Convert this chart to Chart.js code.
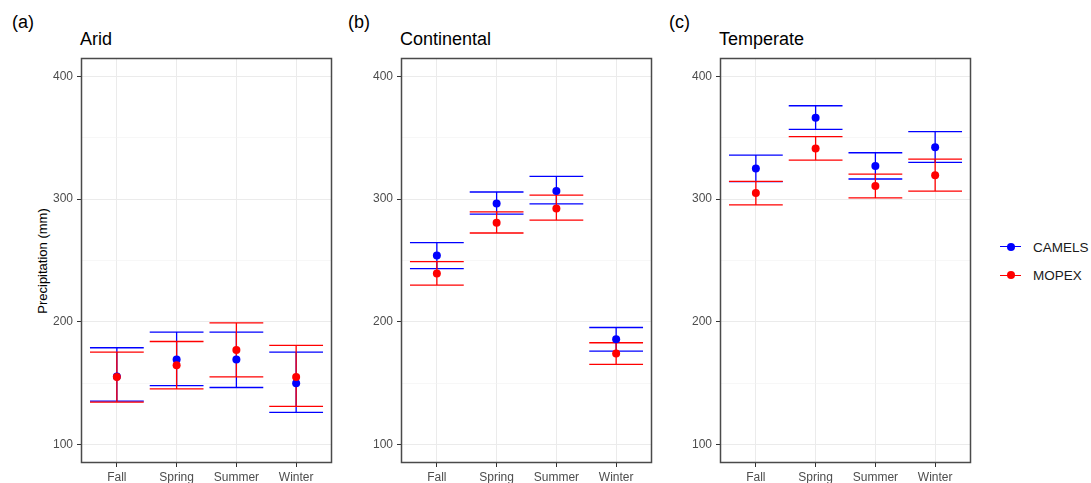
<!DOCTYPE html>
<html>
<head>
<meta charset="utf-8">
<script src="https://cdn.jsdelivr.net/npm/chart.js@4.4.0/dist/chart.umd.min.js"></script>
<style>
  body { margin: 0; width: 1091px; height: 483px; overflow: hidden; background: #fff; position: relative;
         font-family: "Liberation Sans", Arial, sans-serif; }
  canvas { position: absolute; top: 0; }
  .lab { position: absolute; font-size: 18px; line-height: 18px; color: #000; white-space: nowrap; }
  .ytitle { position: absolute; left: 42px; top: 260.5px; font-size: 13px; line-height: 13px; color: #000;
            white-space: nowrap; transform: translate(-50%, -50%) rotate(-90deg); }
  .leg { position: absolute; font-size: 13.5px; line-height: 14px; color: #1a1a1a; left: 1033px; }
  .legline { position: absolute; left: 1000px; width: 21px; height: 1.3px; }
  .legdot { position: absolute; left: 1006.7px; width: 8px; height: 8px; border-radius: 50%; }
</style>
</head>
<body>
<div class="lab" style="left:12px;top:13px">(a)</div>
<div class="lab" style="left:348px;top:13px">(b)</div>
<div class="lab" style="left:669px;top:13px">(c)</div>
<div class="lab" style="left:80px;top:30px">Arid</div>
<div class="lab" style="left:400px;top:30px">Continental</div>
<div class="lab" style="left:719px;top:30px">Temperate</div>
<div class="ytitle">Precipitation (mm)</div>

<canvas id="arid"></canvas>
<canvas id="continental"></canvas>
<canvas id="temperate"></canvas>

<div class="legline" style="top:246px;background:#0000ff"></div>
<div class="legdot" style="top:242.7px;background:#0000ff"></div>
<div class="leg" style="top:240.5px">CAMELS</div>
<div class="legline" style="top:275px;background:#ff0000"></div>
<div class="legdot" style="top:271.3px;background:#ff0000"></div>
<div class="leg" style="top:269px">MOPEX</div>

<script>
// categorias e valores
const seasons = ["Fall", "Spring", "Summer", "Winter"];
const yTicks = [100, 150, 200, 250, 300, 350, 400];

const camelsAridMean = [155.4, 169.4, 169.4, 150.0];
const camelsAridLow  = [135.4, 148.1, 146.5, 126.3];
const camelsAridHigh = [178.9, 191.6, 191.6, 175.4];
const mopexAridMean  = [155.0, 164.6, 177.0, 155.1];
const mopexAridLow   = [134.6, 145.4, 155.1, 131.1];
const mopexAridHigh  = [175.4, 184.0, 199.2, 180.8];

const camelsContMean = [254.0, 296.4, 306.6, 185.9];
const camelsContLow  = [243.4, 287.8, 296.1, 176.2];
const camelsContHigh = [264.5, 305.8, 318.6, 195.4];
const mopexContMean  = [239.4, 280.7, 292.4, 174.3];
const mopexContLow   = [230.0, 272.4, 282.9, 165.4];
const mopexContHigh  = [249.1, 289.6, 303.2, 183.0];

const camelsTempMean = [325.0, 366.4, 326.9, 342.3];
const camelsTempLow  = [314.2, 356.9, 316.4, 329.9];
const camelsTempHigh = [335.8, 376.1, 337.8, 355.0];
const mopexTempMean  = [305.0, 341.2, 310.7, 319.4];
const mopexTempLow   = [295.3, 331.8, 301.0, 306.6];
const mopexTempHigh  = [314.5, 351.0, 320.4, 332.6];

const AXIS_W = 66;
const BLUE = "#0000ff";
const RED = "#ff0000";

// barras de erro + borda do painel
function errorBars(series) {
  return {
    id: "errorBars",
    beforeDatasetsDraw(chart) {
      const { ctx, scales: { x, y } } = chart;
      ctx.save();
      ctx.lineWidth = 1.3;
      series.forEach(s => {
        ctx.strokeStyle = s.color;
        s.low.forEach((lo, i) => {
          const xc = x.getPixelForValue(i + 1);
          const x0 = x.getPixelForValue(i + 1 - 0.45);
          const x1 = x.getPixelForValue(i + 1 + 0.45);
          const yl = y.getPixelForValue(lo);
          const yh = y.getPixelForValue(s.high[i]);
          ctx.beginPath();
          ctx.moveTo(xc, yl); ctx.lineTo(xc, yh);
          ctx.moveTo(x0, yh); ctx.lineTo(x1, yh);
          ctx.moveTo(x0, yl); ctx.lineTo(x1, yl);
          ctx.stroke();
        });
      });
      ctx.restore();
    },
    afterDraw(chart) {
      const { ctx, chartArea: a } = chart;
      ctx.save();
      ctx.strokeStyle = "#4a4a4a";
      ctx.lineWidth = 1.5;
      ctx.strokeRect(Math.round(a.left) + 0.5, Math.round(a.top) + 0.5,
                     Math.round(a.right - a.left) - 1, Math.round(a.bottom - a.top) - 1);
      ctx.restore();
    }
  };
}

function pontos(valores) {
  return valores.map((v, i) => ({ x: i + 1, y: v }));
}

function criarPainel(id, plotLeft, plotRight, cMean, cLow, cHigh, mMean, mLow, mHigh) {
  const canvas = document.getElementById(id);
  canvas.width = plotRight - plotLeft + AXIS_W + 4;
  canvas.height = 500;
  canvas.style.left = (plotLeft - AXIS_W) + "px";

  const major = c => c.tick && c.tick.value % 100 === 0;

  new Chart(canvas, {
    type: "scatter",
    data: {
      datasets: [
        { label: "MOPEX", data: pontos(mMean), backgroundColor: RED, borderColor: RED,
          pointRadius: 4, borderWidth: 0, order: 0 },
        { label: "CAMELS", data: pontos(cMean), backgroundColor: BLUE, borderColor: BLUE,
          pointRadius: 4, borderWidth: 0, order: 1 }
      ]
    },
    options: {
      responsive: false,
      animation: false,
      layout: { padding: { top: 58, right: 4, left: 0, bottom: 0 } },
      plugins: { legend: { display: false }, tooltip: { enabled: false } },
      scales: {
        x: {
          type: "linear",
          min: 0.4,
          max: 4.6,
          afterBuildTicks: axis => { axis.ticks = [1, 2, 3, 4].map(v => ({ value: v })); },
          afterFit: axis => { axis.height = 37; },
          border: { display: false },
          grid: { color: "#ebebeb", lineWidth: 1, tickColor: "#333333", tickLength: 4, tickWidth: 1 },
          ticks: {
            autoSkip: false, maxRotation: 0, padding: 3, color: "#4d4d4d",
            font: { family: "'Liberation Sans', Arial, sans-serif", size: 12 },
            callback: v => seasons[v - 1]
          }
        },
        y: {
          min: 85,
          max: 415,
          afterBuildTicks: axis => { axis.ticks = yTicks.map(v => ({ value: v })); },
          afterFit: axis => { axis.width = AXIS_W; },
          border: { display: false },
          grid: {
            color: c => major(c) ? "#ebebeb" : "#f2f2f2",
            lineWidth: c => major(c) ? 1 : 0.6,
            tickColor: c => major(c) ? "#333333" : "rgba(0,0,0,0)",
            tickLength: 4,
            tickWidth: 1
          },
          ticks: {
            autoSkip: false, padding: 4, color: "#4d4d4d",
            font: { family: "'Liberation Sans', Arial, sans-serif", size: 12 },
            callback: v => v % 100 === 0 ? v : ""
          }
        }
      }
    },
    plugins: [errorBars([
      { color: BLUE, low: cLow, high: cHigh },
      { color: RED, low: mLow, high: mHigh }
    ])]
  });
}

criarPainel("arid", 81, 332, camelsAridMean, camelsAridLow, camelsAridHigh, mopexAridMean, mopexAridLow, mopexAridHigh);
criarPainel("continental", 401, 652, camelsContMean, camelsContLow, camelsContHigh, mopexContMean, mopexContLow, mopexContHigh);
criarPainel("temperate", 720, 971, camelsTempMean, camelsTempLow, camelsTempHigh, mopexTempMean, mopexTempLow, mopexTempHigh);
</script>
</body>
</html>
